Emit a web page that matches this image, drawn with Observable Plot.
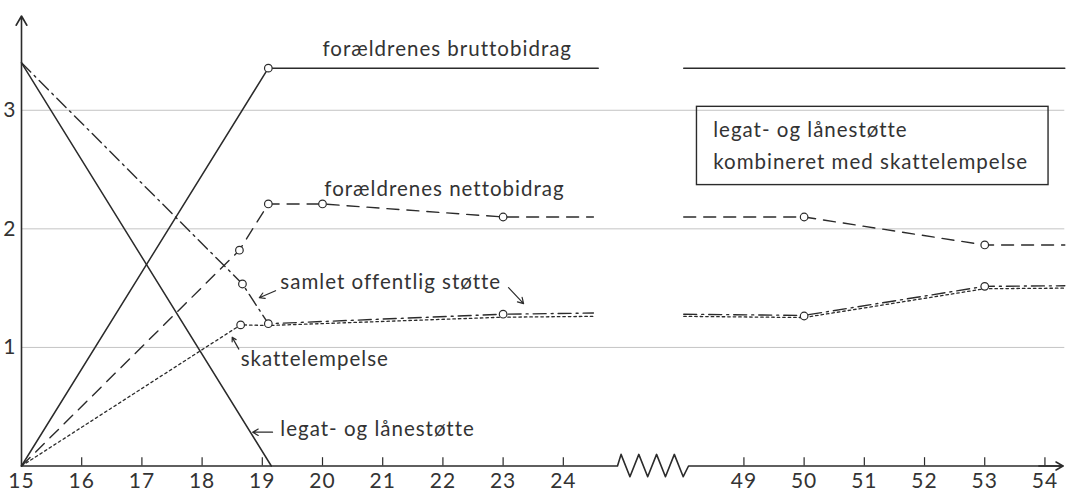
<!DOCTYPE html>
<html><head><meta charset="utf-8">
<script src="https://cdn.jsdelivr.net/npm/d3@7"></script>
<script src="https://cdn.jsdelivr.net/npm/@observablehq/plot@0.6"></script>
<style>
html,body{margin:0;padding:0;background:#fff;}
#chart svg{display:block;}
</style></head><body><div id="chart"></div>
<script>
// ---- data (age on x, amount on y); NaN marks the axis break ----
const bruttoAges = [15, 19.1, 24.58, NaN, 48, 54.33];
const bruttoVals = [0, 3.355, 3.355, NaN, 3.355, 3.355];

const nettoAges = [15, 18.62, 19.1, 20, 23, 24.5, NaN, 48, 50, 53, 54.33];
const nettoVals = [0, 1.82, 2.21, 2.21, 2.10, 2.10, NaN, 2.10, 2.10, 1.864, 1.864];

const samletAges = [15, 18.67, 19.1, 23, 24.5, NaN, 48, 50, 53, 54.33];
const samletVals = [3.40, 1.535, 1.20, 1.28, 1.29, NaN, 1.28, 1.27, 1.515, 1.52];

const skatteAges = [15, 18.64, 19.1, 23, 24.5, NaN, 48, 50, 53, 54.33];
const skatteVals = [0, 1.19, 1.185, 1.255, 1.262, NaN, 1.262, 1.252, 1.495, 1.50];

const legatAges = [15, 19.15];
const legatVals = [3.40, 0];

// open circles on the curves
const circleAges = [19.1, 18.62, 19.1, 20, 23, 50, 53, 18.67, 19.1, 23, 50, 53, 18.64];
const circleVals = [3.355, 1.82, 2.21, 2.21, 2.10, 2.10, 1.864, 1.535, 1.20, 1.28, 1.265, 1.515, 1.19];

// axis ticks
const xTickAges = [15, 16, 17, 18, 19, 20, 21, 22, 23, 24, 49, 50, 51, 52, 53, 54];
const yTickVals = [1, 2, 3];

// annotations
const labelTexts = ["forældrenes bruttobidrag", "forældrenes nettobidrag", "samlet offentlig støtte", "skattelempelse", "legat- og lånestøtte", "legat- og lånestøtte", "kombineret med skattelempelse"];
const labelAges  = [20.0, 20.03, 19.3, 18.64, 19.3, 48.49, 48.49];
const labelVals  = [3.512, 2.333, 1.547, 0.90, 0.305, 2.832, 2.558];

const arrowFromAges = [19.17, 19.22, 23.09, 18.61];
const arrowFromVals = [0.285, 1.478, 1.504, 0.986];
const arrowToAges   = [18.84, 18.95, 23.34, 18.50];
const arrowToVals   = [0.285, 1.419, 1.369, 1.085];

const boxAges = [48.22, 54.06];
const boxVals = [2.369, 3.029];

// ---- helpers ----
const BREAK_FROM = 24.9, BREAK_TO = 26.08;          // compressed units of the zigzag
const compress = a => (a == null || Number.isNaN(a)) ? NaN : (a > 30 ? a - 22 : a);
const expand = c => c > 26 ? c + 22 : c;
const rows = (ages, vals) => ages.map((a, i) => ({x: compress(a), y: vals[i]}));

const ink = "#2b2b2b";
const xTicks = xTickAges.map(compress);

// x axis line with zigzag break
const axisPts = [{x: 15, y: 0}, {x: BREAK_FROM, y: 0}];
const teeth = 4, amp = [0.098, -0.09];
const step = (BREAK_TO - BREAK_FROM) / (teeth * 2);
for (let i = 0; i < teeth * 2; i++) {
  axisPts.push({x: BREAK_FROM + step * (i + 0.5) - step * 0.1, y: amp[i % 2]});
}
axisPts.push({x: BREAK_TO, y: 0}, {x: 32.3, y: 0});

const labels = labelTexts.map((t, i) => ({t, x: compress(labelAges[i]), y: labelVals[i]}));
const arrows = arrowFromAges.map((a, i) => ({x1: compress(a), y1: arrowFromVals[i], x2: compress(arrowToAges[i]), y2: arrowToVals[i]}));
const circles = rows(circleAges, circleVals);

const chart = Plot.plot({
  width: 1066, height: 491,
  marginLeft: 21, marginRight: 1.7, marginTop: 15.5, marginBottom: 25.5,
  x: {domain: [15, 32.33]},
  y: {domain: [0, 3.795]},
  style: {fontFamily: "Lato, 'Open Sans', sans-serif", fontSize: "21px", color: "#333", background: "#fff"},
  marks: [
    Plot.ruleY(yTickVals, {x1: 15, x2: 32.33, stroke: "#c4c4c4", strokeWidth: 1}),
    Plot.axisY(yTickVals, {tickSize: 0, tickPadding: 5, label: null, tickFormat: d => String(d), fontSize: 21, fill: "#333"}),
    Plot.axisX(xTicks, {tickSize: 0, tickPadding: 7, label: null, tickFormat: c => String(expand(c)), fontSize: 21, fill: "#333"}),
    Plot.ruleX(xTicks.filter(c => c > 15), {y1: 0, y2: 0.07, stroke: ink, strokeWidth: 1.2}),
    Plot.line(axisPts, {x: "x", y: "y", stroke: ink, strokeWidth: 1.6, curve: "linear"}),
    Plot.arrow([0], {x1: 31.9, x2: 32.3, y1: 0, y2: 0, stroke: ink, strokeWidth: 1.6, headLength: 10}),
    Plot.arrow([0], {x1: 15, x2: 15, y1: 0, y2: 3.795, stroke: ink, strokeWidth: 1.6, headLength: 10}),

    Plot.line(rows(legatAges, legatVals), {x: "x", y: "y", stroke: ink, strokeWidth: 1.5}),
    Plot.line(rows(bruttoAges, bruttoVals), {x: "x", y: "y", stroke: ink, strokeWidth: 1.5}),
    Plot.line(rows(nettoAges, nettoVals), {x: "x", y: "y", stroke: ink, strokeWidth: 1.4, strokeDasharray: "12,8"}),
    Plot.line(rows(samletAges, samletVals), {x: "x", y: "y", stroke: ink, strokeWidth: 1.4, strokeDasharray: "13,5,2,5"}),
    Plot.line(rows(skatteAges, skatteVals), {x: "x", y: "y", stroke: ink, strokeWidth: 1.3, strokeDasharray: "2.5,3"}),
    Plot.dot(circles, {x: "x", y: "y", r: 3.8, stroke: ink, strokeWidth: 1.2, fill: "white"}),

    Plot.rect([0], {x1: compress(boxAges[0]), x2: compress(boxAges[1]), y1: boxVals[0], y2: boxVals[1], stroke: ink, strokeWidth: 1.4, fill: "none"}),
    Plot.text(labels, {x: "x", y: "y", text: "t", textAnchor: "start", fontSize: 20.5, fill: "#333", style: "letter-spacing:1px"}),
    Plot.arrow(arrows, {x1: "x1", y1: "y1", x2: "x2", y2: "y2", stroke: ink, strokeWidth: 1.2, headLength: 8})
  ]
});
chart.querySelectorAll("text").forEach(t => t.style.letterSpacing = "1px");
document.getElementById("chart").appendChild(chart);
</script>
</body></html>
